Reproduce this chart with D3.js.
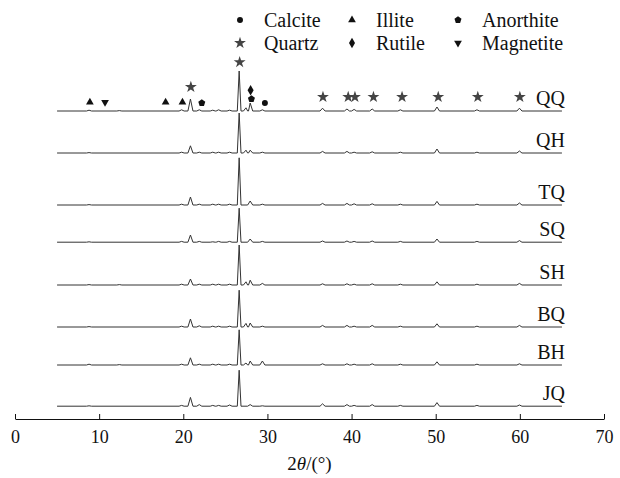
<!DOCTYPE html>
<html>
<head>
<meta charset="utf-8">
<script src="https://cdn.jsdelivr.net/npm/d3@7"></script>
<style>
  body { margin: 0; background: #fff; }
  text { font-family: "Liberation Serif", "Times New Roman", serif; fill: #111; }
</style>
</head>
<body>
<svg id="chart"></svg>
<script>
// sample names, top to bottom
var samples = ["QQ", "QH", "TQ", "SQ", "SH", "BQ", "BH", "JQ"];
// vertical stacking offset of each pattern (intensity units)
var offsets = [770, 665, 535, 442, 335, 230, 135, 32];

// peaks: [2theta, relative intensity]
var peaksQQ = [[8.8, 2], [12.4, 1], [19.8, 3], [20.85, 30], [21.9, 3], [23.5, 2], [24.2, 3], [25.5, 2],
    [26.64, 100], [27.45, 8], [27.95, 20], [29.4, 3], [36.55, 7], [39.45, 5], [40.3, 4], [42.45, 5],
    [45.8, 3], [50.15, 10], [54.9, 3], [59.95, 7]];
var peaksQH = [[8.8, 1], [19.8, 2], [20.85, 18], [21.9, 2], [23.5, 2], [24.2, 2], [25.5, 2],
    [26.64, 100], [27.45, 7], [27.95, 7], [29.4, 2], [36.55, 4], [39.45, 4], [40.3, 2], [42.45, 3],
    [45.8, 2], [50.15, 10], [54.9, 2], [59.95, 5]];
var peaksTQ = [[8.8, 1], [19.8, 2], [20.85, 20], [21.9, 2], [23.5, 2], [24.2, 2], [25.5, 2],
    [26.64, 118], [27.95, 10], [29.4, 2], [36.55, 4], [39.45, 4], [40.3, 3], [42.45, 3],
    [45.8, 2], [50.15, 9], [54.9, 2], [59.95, 5]];
var peaksSQ = [[8.8, 1], [19.8, 2], [20.85, 18], [21.9, 2], [23.5, 1], [24.2, 2], [25.5, 2],
    [26.64, 85], [27.95, 8], [29.4, 2], [36.55, 3], [39.45, 3], [40.3, 2], [42.45, 3],
    [45.8, 2], [50.15, 8], [54.9, 2], [59.95, 4]];
var peaksSH = [[8.8, 1], [12.4, 1], [19.8, 2], [20.85, 15], [21.9, 2], [23.5, 2], [24.2, 2], [25.5, 2],
    [26.64, 100], [27.45, 8], [27.95, 12], [29.4, 4], [36.55, 3], [39.45, 3], [40.3, 2], [42.45, 3],
    [45.8, 2], [50.15, 8], [54.9, 2], [59.95, 4]];
var peaksBQ = [[8.8, 1], [19.8, 2], [20.85, 20], [21.9, 3], [23.5, 2], [24.2, 2], [25.5, 2],
    [26.64, 92], [27.45, 9], [27.95, 10], [29.4, 2], [36.55, 4], [39.45, 4], [40.3, 2], [42.45, 4],
    [45.8, 2], [50.15, 8], [54.9, 2], [59.95, 4]];
var peaksBH = [[8.8, 2], [12.4, 1], [19.8, 2], [20.85, 18], [21.9, 2], [23.5, 2], [24.2, 2], [25.5, 2],
    [26.64, 88], [27.45, 5], [27.95, 10], [29.4, 10], [36.55, 3], [39.45, 3], [40.3, 2], [42.45, 3],
    [45.8, 2], [50.15, 8], [54.9, 2], [59.95, 3]];
var peaksJQ = [[8.8, 1], [19.8, 2], [20.85, 22], [21.9, 4], [23.5, 2], [24.2, 2], [25.5, 3],
    [26.64, 90], [27.95, 4], [29.4, 1], [36.55, 6], [39.45, 4], [40.3, 2], [42.45, 4],
    [45.8, 2], [50.15, 9], [54.9, 2], [59.95, 3]];
var allPeaks = [peaksQQ, peaksQH, peaksTQ, peaksSQ, peaksSH, peaksBQ, peaksBH, peaksJQ];
var scanRange = [5, 65];

// phase markers over the QQ pattern: [2theta, phase, height above baseline]
var markers = [[8.9, "Illite", 22], [10.7, "Magnetite", 22], [17.9, "Illite", 22], [19.9, "Illite", 22],
    [20.9, "Quartz", 60], [22.2, "Anorthite", 20], [26.7, "Quartz", 122], [28.0, "Rutile", 52],
    [28.1, "Anorthite", 30], [29.7, "Calcite", 20], [36.6, "Quartz", 35], [39.6, "Quartz", 35],
    [40.4, "Quartz", 35], [42.6, "Quartz", 35], [46.0, "Quartz", 35], [50.3, "Quartz", 35],
    [55.0, "Quartz", 35], [60.0, "Quartz", 35]];

var legendRow1 = ["Calcite", "Illite", "Anorthite"];
var legendRow2 = ["Quartz", "Rutile", "Magnetite"];
var xTicks = [0, 10, 20, 30, 40, 50, 60, 70];

var width = 620, height = 478;
var svg = d3.select("#chart").attr("width", width).attr("height", height);

var xScale = d3.scaleLinear().domain([0, 70]).range([15, 604]);
var yScale = d3.scaleLinear().domain([0, 900]).range([419, 59]);

// pentagon symbol
var symbolPentagon = {
    draw: function(context, size) {
        var r = Math.sqrt(size / 2.38);
        for (var i = 0; i < 5; i++) {
            var a = -Math.PI / 2 + i * 2 * Math.PI / 5;
            if (i === 0) context.moveTo(r * Math.cos(a), r * Math.sin(a));
            else context.lineTo(r * Math.cos(a), r * Math.sin(a));
        }
        context.closePath();
    }
};
var phaseStyle = {
    Calcite:   { type: d3.symbolCircle,   size: 28, rot: 0,   fill: "#111" },
    Illite:    { type: d3.symbolTriangle, size: 26, rot: 0,   fill: "#111" },
    Anorthite: { type: symbolPentagon,    size: 32, rot: 0,   fill: "#111" },
    Quartz:    { type: d3.symbolStar,     size: 44, rot: 0,   fill: "#444" },
    Rutile:    { type: d3.symbolDiamond,  size: 32, rot: 0,   fill: "#111" },
    Magnetite: { type: d3.symbolTriangle, size: 26, rot: 180, fill: "#111" }
};

// build each pattern as a line through its peaks
function patternPoints(peaks) {
    var pts = [[scanRange[0], 0]];
    peaks.forEach(function(p) {
        var hw = p[1] > 50 ? 0.22 : 0.3;
        pts.push([p[0] - hw, 0], [p[0], p[1]], [p[0] + hw, 0]);
    });
    pts.push([scanRange[1], 0]);
    return pts.sort(function(a, b) { return a[0] - b[0]; });
}

samples.forEach(function(name, i) {
    var off = offsets[i];
    var line = d3.line()
        .x(function(d) { return xScale(d[0]); })
        .y(function(d) { return yScale(off + d[1]); });
    svg.append("path")
        .datum(patternPoints(allPeaks[i]))
        .attr("d", line)
        .attr("fill", "none")
        .attr("stroke", "#333")
        .attr("stroke-width", 1);
    svg.append("text")
        .attr("x", xScale(scanRange[1]) + 3)
        .attr("y", yScale(off) - 6)
        .attr("text-anchor", "end")
        .style("font-size", "20px")
        .text(name);
});

// markers
svg.selectAll(".marker")
    .data(markers)
    .enter().append("path")
    .attr("class", "marker")
    .attr("d", function(d) { var s = phaseStyle[d[1]]; return d3.symbol().type(s.type).size(s.size)(); })
    .attr("transform", function(d) {
        return "translate(" + xScale(d[0]) + "," + yScale(offsets[0] + d[2]) + ") rotate(" + phaseStyle[d[1]].rot + ")";
    })
    .attr("fill", function(d) { return phaseStyle[d[1]].fill; });

// legend
var legendX = [240, 352, 458];
[legendRow1, legendRow2].forEach(function(row, r) {
    row.forEach(function(name, c) {
        var s = phaseStyle[name];
        var cy = 20 + r * 23;
        svg.append("path")
            .attr("d", d3.symbol().type(s.type).size(s.size)())
            .attr("transform", "translate(" + legendX[c] + "," + cy + ") rotate(" + s.rot + ")")
            .attr("fill", s.fill);
        svg.append("text")
            .attr("x", legendX[c] + 24)
            .attr("y", cy + 7)
            .style("font-size", "20px")
            .text(name);
    });
});

// x axis, ticks pointing up
var xAxis = svg.append("g")
    .attr("transform", "translate(0,419)")
    .call(d3.axisBottom(xScale).tickValues(xTicks).tickSizeInner(-5).tickSizeOuter(0).tickPadding(11));
xAxis.selectAll("text").style("font-size", "18px").style("font-family", "'Liberation Serif', serif").attr("fill", "#111");
xAxis.select(".domain").attr("stroke", "#111");
xAxis.selectAll("line").attr("stroke", "#111");

var title = svg.append("text")
    .attr("x", xScale(35))
    .attr("y", 470)
    .attr("text-anchor", "middle")
    .style("font-size", "19px");
title.append("tspan").text("2");
title.append("tspan").style("font-style", "italic").text("θ");
title.append("tspan").text("/(°)");
</script>
</body>
</html>
